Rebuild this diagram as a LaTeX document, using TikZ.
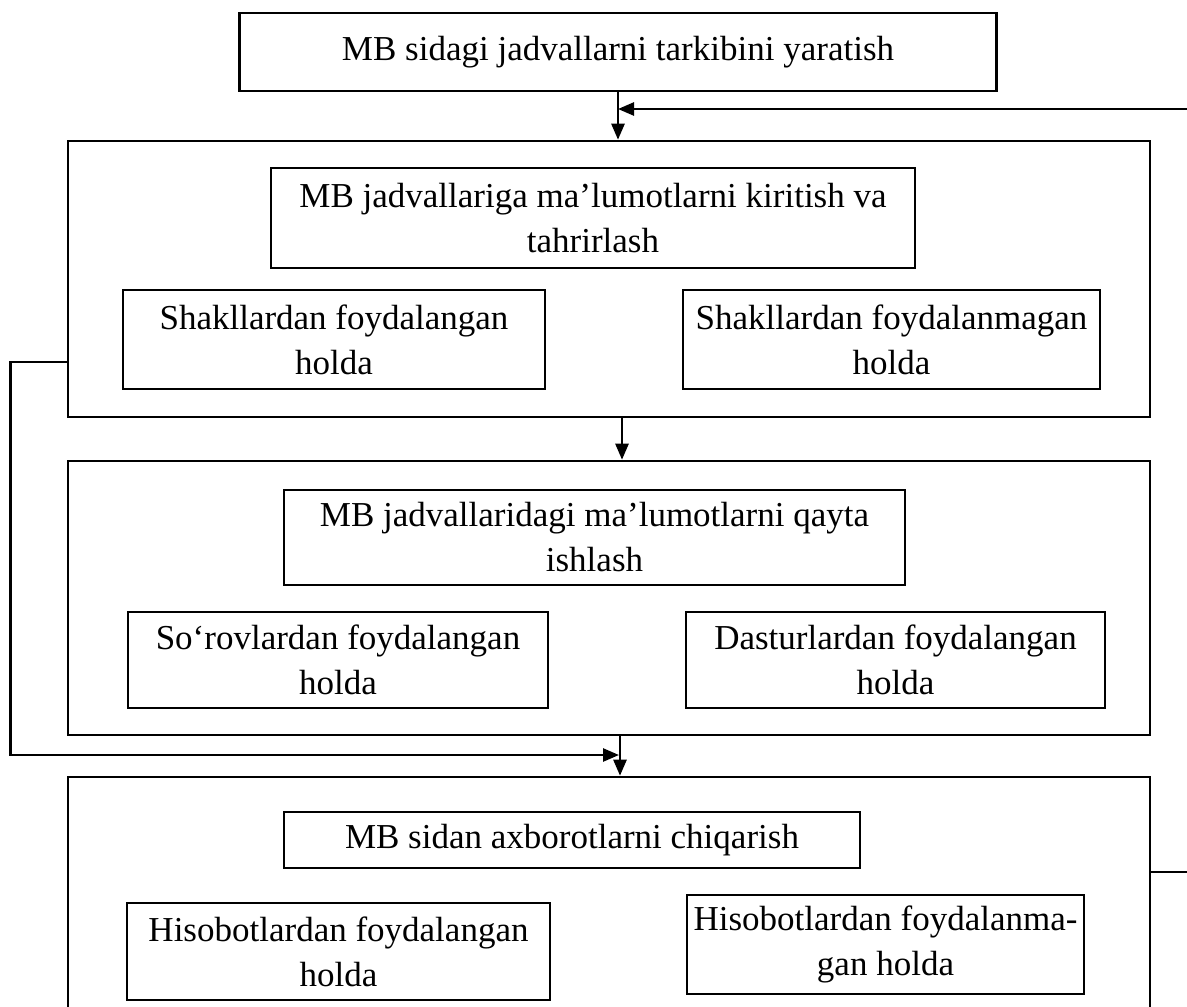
\documentclass[tikz,border=0pt]{standalone}
\usepackage{fontspec}
\setmainfont{Liberation Serif}
\usetikzlibrary{arrows.meta,positioning}
\tikzset{
  ramka/.style={draw,line width=2.6pt,inner sep=0pt},
  sarlavha/.style={ramka,align=center},
  quti/.style={ramka,align=center},
  strelka/.style={line width=2.6pt,-{Triangle[length=16pt,width=13pt]}}
}
\begin{document}
\begin{tikzpicture}[x=1pt,y=-1pt,font=\fontsize{35}{45}\selectfont]
        \clip (0,0) rectangle (1187,1007);
        % yuqori blok
        \node[sarlavha,minimum width=757pt,minimum height=78pt] (yarat) at (618,52) {\raisebox{4pt}{MB sidagi jadvallarni tarkibini yaratish}};
        % kiritish bloki
        \node[ramka,minimum width=1082pt,minimum height=276pt] (kiritish) at (609,279) {};
        \node[sarlavha,minimum width=644pt,minimum height=100pt] (kiritishT) at (593,218) {MB jadvallariga ma’lumotlarni kiritish va\\tahrirlash};
        \node[quti,minimum width=422pt,minimum height=99pt] (shakl1) at (334,339.5) {Shakllardan foydalangan\\holda};
        \node[quti,minimum width=417pt,minimum height=99pt] (shakl2) at (891.5,339.5) {Shakllardan foydalanmagan\\holda};
        % ishlash bloki
        \node[ramka,minimum width=1082pt,minimum height=274pt] (ishlash) at (609,598) {};
        \node[sarlavha,minimum width=621pt,minimum height=95pt] (ishlashT) at (594.5,537.5) {MB jadvallaridagi ma’lumotlarni qayta\\ishlash};
        \node[quti,minimum width=420pt,minimum height=96pt] (sorov) at (338,660) {So‘rovlardan foydalangan\\holda};
        \node[quti,minimum width=419pt,minimum height=96pt] (dastur) at (895.5,660) {Dasturlardan foydalangan\\holda};
        % chiqarish bloki
        \node[ramka,minimum width=1082pt,minimum height=283pt] (chiqarish) at (609,918.5) {};
        \node[sarlavha,minimum width=576pt,minimum height=56pt] (chiqarishT) at (572,840) {MB sidan axborotlarni chiqarish};
        \node[quti,minimum width=423pt,minimum height=97pt] (hisob1) at (338.5,951.5) {Hisobotlardan foydalangan\\holda};
        \node[quti,minimum width=397pt,minimum height=99pt] (hisob2) at (885.5,944.5) {Hisobotlardan foydalanma-\\gan holda};
        % strelkalar
        \coordinate (ong) at (1187,109);
        \coordinate (ongpast) at (1187,872);
        \coordinate (tutash) at (619,755);
        \draw[strelka] (yarat.south) -- (yarat.south |- kiritish.north);
        \draw[strelka] (ong) -- (yarat.south |- ong);
        \draw[strelka] ([xshift=13pt]kiritish.south) -- ([xshift=13pt]ishlash.north);
        \draw[strelka] ([xshift=11pt]ishlash.south) -- ([xshift=11pt]chiqarish.north);
        \draw[strelka] (kiritish.west |- 0,362) -- ++(-56,0) |- (tutash);
        \draw[line width=2.6pt] (chiqarish.east |- ongpast) -- (ongpast);
      \end{tikzpicture}
\end{document}
